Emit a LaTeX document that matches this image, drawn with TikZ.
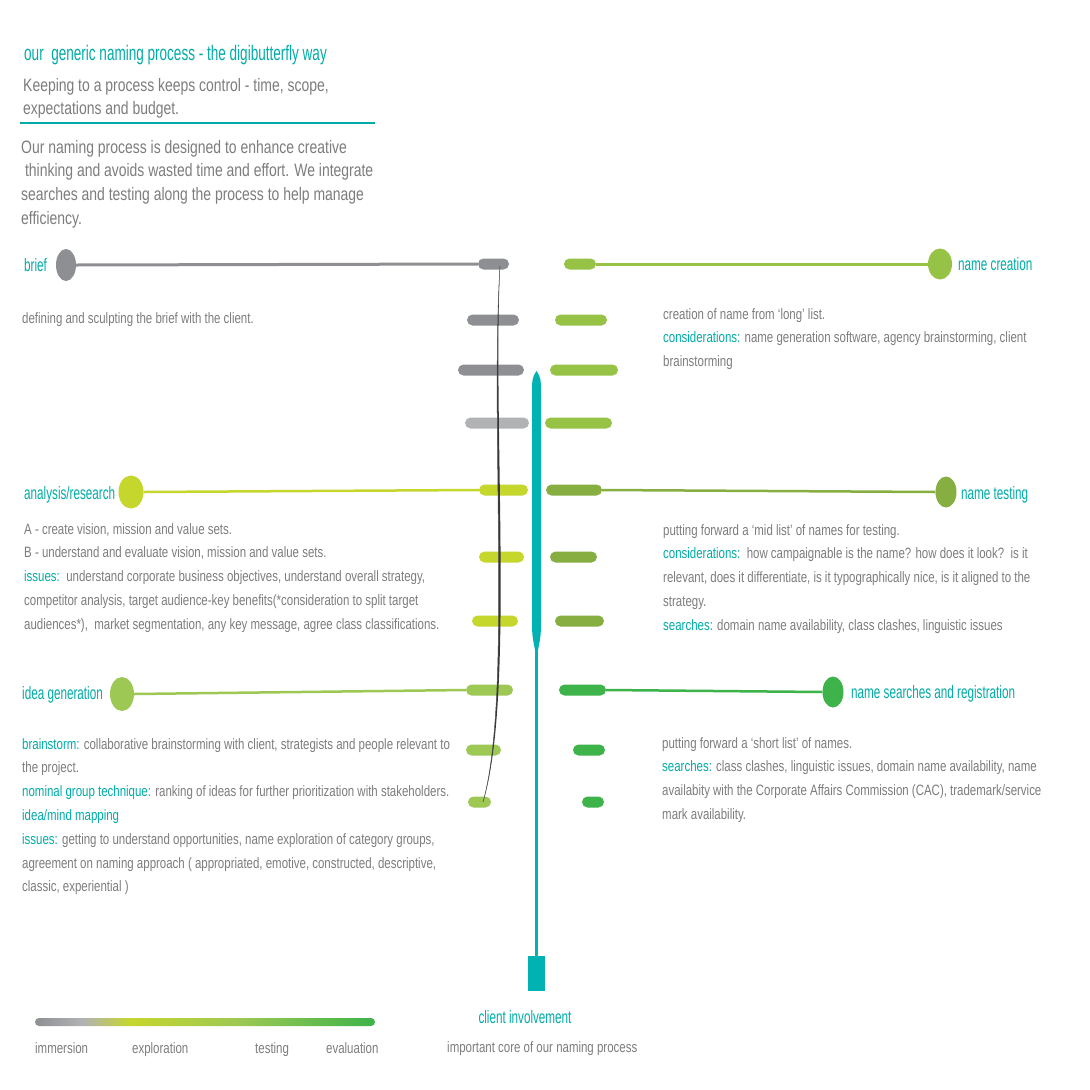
\documentclass[tikz,border=0pt]{standalone}
\usepackage{fontspec}
\setmainfont{Liberation Sans}
\newfontfamily\bodyf[FakeStretch=0.765]{Liberation Sans}
\newfontfamily\parf[FakeStretch=0.775]{Liberation Sans}
\newfontfamily\headf[FakeStretch=0.65]{Liberation Sans}
\newfontfamily\titlef[FakeStretch=0.645]{Liberation Sans}
\usetikzlibrary{shapes.geometric}
\definecolor{tealc}{RGB}{0,172,168}
\definecolor{txtgray}{RGB}{125,125,127}
\definecolor{bargray}{RGB}{142,143,147}
\definecolor{lightgraytwo}{RGB}{177,178,180}
\definecolor{ygreen}{RGB}{197,214,45}
\definecolor{lgreen}{RGB}{150,195,70}
\definecolor{ogreen}{RGB}{134,174,65}
\definecolor{igreen}{RGB}{157,200,83}
\definecolor{dgreen}{RGB}{61,179,74}
\definecolor{spine}{RGB}{0,178,177}
\pgfdeclarehorizontalshading{procgrad}{100bp}{color(0bp)=(bargray); color(25bp)=(bargray); color(32bp)=(lightgraytwo); color(39bp)=(ygreen); color(55bp)=(igreen); color(75bp)=(dgreen); color(100bp)=(dgreen)}
\tikzset{
  bar/.style={rectangle, rounded corners=5.5pt, minimum height=11pt, inner sep=0pt},
  dot/.style={ellipse, inner sep=0pt},
  head/.style={font=\headf\fontsize{18}{20}\selectfont, text=tealc, anchor=base west, inner sep=0pt},
  body/.style={font=\bodyf\fontsize{15}{23.8}\selectfont, text=txtgray, anchor=base west, align=left, inner sep=0pt},
}
\newcommand{\tl}[1]{\textcolor{tealc}{#1}}
\begin{document}
\begin{tikzpicture}[x=1pt,y=-1pt]
\useasboundingbox (0,0) rectangle (1090,1090);
\fill[white] (0,0) rectangle (1090,1090);

% header (multi-line nodes are placed by the baseline of their last line)
\node[head, font=\titlef\fontsize{21}{24}\selectfont] (title) at (24,60) {our\ \ generic naming process - the digibutterfly way};
\node[body, font=\parf\fontsize{18}{23.5}\selectfont] (intro) at (23,114.5) {Keeping to a process keeps control - time, scope,\\expectations and budget.};
\coordinate (ruleA) at (20,123);
\coordinate (ruleB) at (375,123);
\draw[tealc, line width=1.3pt] (ruleA) -- (ruleB);
\node[body, font=\parf\fontsize{18}{23.7}\selectfont] (para) at (21,224.1) {Our naming process is designed to enhance creative\\\ thinking and avoids wasted time and effort. We integrate\\searches and testing along the process to help manage\\efficiency.};

% spine
\fill[spine] (536.5,371) .. controls (541,378) .. (541,400) -- (541,615) .. controls (541,635) .. (537.6,652) -- (535.4,652) .. controls (532,635) .. (532,615) -- (532,400) .. controls (532,378) .. (536.5,371) -- cycle;
\coordinate (spbot) at (536.5,645);
\node[rectangle, fill=spine, minimum width=17pt, minimum height=35pt, inner sep=0pt] (client) at (536.5,973.5) {};
\draw[spine, line width=3pt] (spbot) -- (client.north);

% bars left
\node[bar, fill=bargray, minimum width=31pt] (L1) at (493.5,264) {};
\node[bar, fill=bargray, minimum width=52pt] (L2) at (493,320) {};
\node[bar, fill=bargray, minimum width=66pt] (L3) at (491,370) {};
\node[bar, fill=lightgraytwo, minimum width=64pt] (L4) at (497,423) {};
\node[bar, fill=ygreen, minimum width=49pt] (L5) at (503.5,490) {};
\node[bar, fill=ygreen, minimum width=45pt] (L6) at (501.5,557) {};
\node[bar, fill=ygreen, minimum width=46pt] (L7) at (495,621) {};
\node[bar, fill=igreen, minimum width=47pt] (L8) at (489.5,690) {};
\node[bar, fill=igreen, minimum width=35pt] (L9) at (483.5,750) {};
\node[bar, fill=igreen, minimum width=23pt] (L10) at (479.5,802) {};
% bars right
\node[bar, fill=lgreen, minimum width=32pt] (R1) at (580,264) {};
\node[bar, fill=lgreen, minimum width=52pt] (R2) at (581,320) {};
\node[bar, fill=lgreen, minimum width=68pt] (R3) at (584,370) {};
\node[bar, fill=lgreen, minimum width=67pt] (R4) at (578.5,423) {};
\node[bar, fill=ogreen, minimum width=56pt] (R5) at (574,490) {};
\node[bar, fill=ogreen, minimum width=47pt] (R6) at (573.5,557) {};
\node[bar, fill=ogreen, minimum width=49pt] (R7) at (579.5,621) {};
\node[bar, fill=dgreen, minimum width=47pt] (R8) at (582.5,690) {};
\node[bar, fill=dgreen, minimum width=32pt] (R9) at (589,750) {};
\node[bar, fill=dgreen, minimum width=22pt] (R10) at (593,802) {};

% thread (tapered)
\coordinate (thA) at (500,266);
\coordinate (thB) at (483,802);
\fill[black!78] (thA) .. controls (490,430) and (512,700) .. (thB) .. controls (514.6,700) and (492.6,430) .. (thA) -- cycle;
\draw[black!70, line width=0.5pt] (thA) .. controls (490,430) and (512,700) .. (thB);

% stage dots
\node[dot, fill=bargray, minimum width=20pt, minimum height=32pt] (brief) at (66,265) {};
\node[dot, fill=lgreen, minimum width=24pt, minimum height=31pt] (nc) at (940,264) {};
\node[dot, fill=ygreen, minimum width=25pt, minimum height=33pt] (ar) at (131,492) {};
\node[dot, fill=ogreen, minimum width=21pt, minimum height=31pt] (nt) at (946,492) {};
\node[dot, fill=igreen, minimum width=24pt, minimum height=34pt] (ig) at (122,694) {};
\node[dot, fill=dgreen, minimum width=21pt, minimum height=31pt] (ns) at (833,692) {};

% connectors
\draw[bargray, line width=3pt] (brief.east) -- (L1.west);
\draw[lgreen, line width=3pt] (R1.east) -- (nc.west);
\draw[ygreen, line width=2.5pt] (ar.east) -- (L5.west);
\draw[ogreen, line width=2.5pt] (R5.east) -- (nt.west);
\draw[igreen, line width=2.5pt] (ig.east) -- (L8.west);
\draw[dgreen, line width=2.5pt] (R8.east) -- (ns.west);

% headings
\node[head] (hbrief) at (24,271) {brief};
\node[head] (hnc) at (958,270) {name creation};
\node[head] (har) at (24,499) {analysis/research};
\node[head] (hnt) at (961,499) {name testing};
\node[head] (hig) at (22,699) {idea generation};
\node[head] (hns) at (851,698) {name searches and registration};

% body texts
\node[body] (tbrief) at (22,323) {defining and sculpting the brief with the client.};
\node[body] (tnc) at (663,366.6) {creation of name from ‘long’ list.\\\tl{considerations:} name generation software, agency brainstorming, client\\brainstorming};
\node[body] (tar) at (24,629.2) {A - create vision, mission and value sets.\\B - understand and evaluate vision, mission and value sets.\\\tl{issues:}\ \ understand corporate business objectives, understand overall strategy,\\competitor analysis, target audience-key benefits(*consideration to split target\\audiences*),\ \ market segmentation, any key message, agree class classifications.};
\node[body] (tnt) at (663,630.2) {putting forward a ‘mid list’ of names for testing.\\\tl{considerations:}\ \ how campaignable is the name? how does it look?\ \ is it\\relevant, does it differentiate, is it typographically nice, is it aligned to the\\strategy.\\\tl{searches:} domain name availability, class clashes, linguistic issues};
\node[body] (tig) at (22,891.8) {\tl{brainstorm:} collaborative brainstorming with client, strategists and people relevant to\\the project.\\\tl{nominal group technique:} ranking of ideas for further prioritization with stakeholders.\\\tl{idea/mind mapping}\\\tl{issues:} getting to understand opportunities, name exploration of category groups,\\agreement on naming approach ( appropriated, emotive, constructed, descriptive,\\classic, experiential )};
\node[body] (tns) at (662,819.4) {putting forward a ‘short list’ of names.\\\tl{searches:} class clashes, linguistic issues, domain name availability, name\\availabity with the Corporate Affairs Commission (CAC), trademark/service\\mark availability.};

% legend
\shade[shading=procgrad, rounded corners=4pt] (35,1018) rectangle (375,1026);
\node[body] (lg1) at (35,1053) {immersion};
\node[body] (lg2) at (132,1053) {exploration};
\node[body] (lg3) at (255,1053) {testing};
\node[body] (lg4) at (326,1053) {evaluation};
\node[head, anchor=base] (hclient) at (525,1023) {client involvement};
\node[body] (tclient) at (447,1052) {important core of our naming process};
\end{tikzpicture}
\end{document}
